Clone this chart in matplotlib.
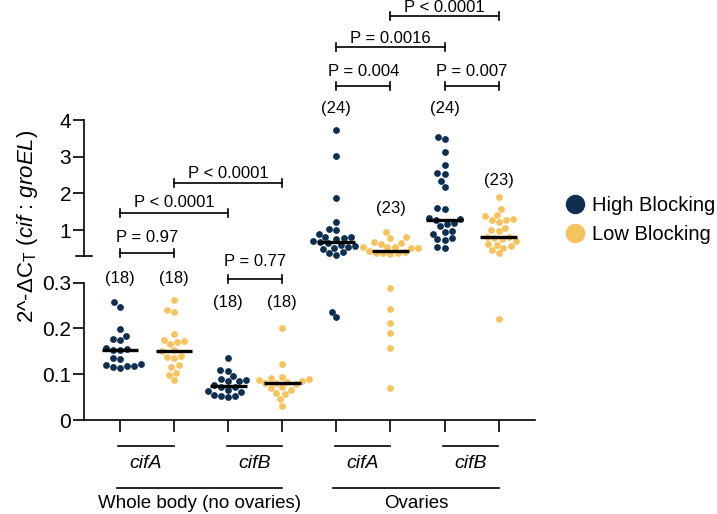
import numpy as np
import matplotlib
matplotlib.use("Agg")
import matplotlib.pyplot as plt
import matplotlib.transforms as mtransforms
from matplotlib.lines import Line2D

plt.rcParams["font.family"] = ["Liberation Sans", "DejaVu Sans"]
plt.rcParams["mathtext.fontset"] = "custom"
plt.rcParams["mathtext.rm"] = "Liberation Sans"
plt.rcParams["mathtext.it"] = "Liberation Sans:italic"

series_names = ["High Blocking", "Low Blocking"]
series_colors = ["#0e2f50", "#f6c35e"]
genes = ["cifA", "cifB", "cifA", "cifB"]
tissues = ["Whole body (no ovaries)", "Ovaries"]

# 2^-dCt values per group
body_cifA_high = [0.257, 0.247, 0.199, 0.184, 0.178, 0.175, 0.158, 0.155, 0.154,
                  0.152, 0.135, 0.133, 0.122, 0.120, 0.119, 0.118, 0.116, 0.113]
body_cifA_low = [0.263, 0.240, 0.235, 0.187, 0.175, 0.173, 0.170, 0.166, 0.153,
                 0.150, 0.140, 0.138, 0.136, 0.120, 0.116, 0.103, 0.098, 0.087]
body_cifB_high = [0.136, 0.110, 0.108, 0.097, 0.090, 0.087, 0.086, 0.085, 0.077,
                  0.073, 0.072, 0.066, 0.064, 0.062, 0.055, 0.053, 0.052, 0.050]
body_cifB_low = [0.202, 0.122, 0.095, 0.092, 0.090, 0.088, 0.086, 0.084, 0.081,
                 0.080, 0.078, 0.072, 0.070, 0.066, 0.060, 0.057, 0.046, 0.031]
ova_cifA_high = [3.73, 3.02, 1.86, 1.22, 1.03, 1.00, 0.90, 0.82, 0.80, 0.78, 0.75, 0.70,
                 0.66, 0.64, 0.60, 0.56, 0.55, 0.52, 0.48, 0.40, 0.36, 0.33, 0.237, 0.225]
ova_cifA_low = [0.94, 0.80, 0.79, 0.67, 0.65, 0.63, 0.55, 0.54, 0.53, 0.52, 0.51, 0.42,
                0.39, 0.38, 0.37, 0.36, 0.35, 0.289, 0.242, 0.212, 0.190, 0.158, 0.071]
ova_cifB_high = [3.55, 3.47, 3.12, 2.77, 2.56, 2.53, 2.34, 2.16, 1.59, 1.57, 1.32, 1.29,
                 1.27, 1.20, 1.17, 1.10, 0.98, 0.95, 0.90, 0.78, 0.75, 0.72, 0.55, 0.52]
ova_cifB_low = [1.89, 1.57, 1.41, 1.37, 1.30, 1.28, 1.26, 1.22, 1.05, 1.00, 0.97, 0.82,
                0.80, 0.78, 0.75, 0.70, 0.62, 0.60, 0.56, 0.52, 0.45, 0.37, 0.22]

comp_pairs = [(0, 1), (0, 2), (1, 3), (2, 3), (4, 5), (4, 6), (5, 7), (6, 7)]
comp_labels = ["P = 0.97", "P < 0.0001", "P < 0.0001", "P = 0.77",
               "P = 0.004", "P = 0.0016", "P < 0.0001", "P = 0.007"]

all_groups = [body_cifA_high, body_cifA_low, body_cifB_high, body_cifB_low,
              ova_cifA_high, ova_cifA_low, ova_cifB_high, ova_cifB_low]

# layout (pixels from top of a 717x514 image)
W, H = 717, 514
brk = 0.3
bracket_y = [252.7, 212.7, 182.7, 279, 86, 46.7, 16, 86]
label_y = [237.5, 203, 173, 262, 72, 38.5, 8, 72]
n_y = [279, 279, 302, 302, 108, 208, 108, 180]

fig = plt.figure(figsize=(W / 100, H / 100), dpi=100)
ax_bot = fig.add_axes([84 / W, (H - 420) / H, 451 / W, 137.3 / H])
ax_top = fig.add_axes([84 / W, (H - 255.7) / H, 451 / W, 135.7 / H])
xlim = (-0.665, 7.671)

for ax in (ax_bot, ax_top):
    ax.set_xlim(*xlim)
    ax.spines["top"].set_visible(False)
    ax.spines["right"].set_visible(False)
    for s in ax.spines.values():
        s.set_linewidth(1.2)
    ax.tick_params(axis="y", length=8.2, width=1.2, pad=1, labelsize=15)
    ax.tick_params(axis="x", length=8.8, width=1.2, labelsize=0)

ax_bot.set_ylim(0, brk)
ax_bot.set_yticks([0, 0.1, 0.2, 0.3])
ax_bot.set_yticklabels(["0", "0.1", "0.2", "0.3"])
ax_bot.set_xticks(range(len(all_groups)))
ax_bot.set_xticklabels([])

ax_top.set_ylim(brk, 4)
ax_top.set_yticks([1, 2, 3, 4])
ax_top.set_yticklabels(["1", "2", "3", "4"])
ax_top.spines["bottom"].set_visible(False)
ax_top.set_xticks([])
ax_top.patch.set_visible(False)
ax_bot.patch.set_visible(False)
# cap at the end of the upper segment
cap = mtransforms.blended_transform_factory(ax_top.transAxes, ax_top.transData)
ax_top.add_line(Line2D([-0.018, 0.018], [brk, brk], transform=cap, color="black",
                       lw=1.2, clip_on=False))


def swarm(ypx, d):
    xs = np.zeros(len(ypx))
    done = []
    for k in np.argsort(ypx):
        y = ypx[k]
        cands = [0.0]
        for j in done:
            dy = abs(ypx[j] - y)
            if dy < d:
                w = np.sqrt(d * d - dy * dy)
                cands += [xs[j] - w, xs[j] + w]
        cands.sort(key=lambda c: (abs(c), c))
        for c in cands:
            if all((xs[j] - c) ** 2 + (ypx[j] - y) ** 2 >= d * d - 1e-6 for j in done):
                xs[k] = c
                break
        done.append(k)
    return xs


px_unit = ax_bot.transData.transform((1, 0))[0] - ax_bot.transData.transform((0, 0))[0]
for i, vals in enumerate(all_groups):
    vals = np.array(vals)
    color = series_colors[i % 2]
    ypx = np.array([(ax_top if v >= brk else ax_bot).transData.transform((i, v))[1]
                    for v in vals])
    offs = swarm(ypx, 7.3) / px_unit
    for ax, mask in ((ax_top, vals >= brk), (ax_bot, vals < brk)):
        ax.scatter(i + offs[mask], vals[mask], s=24, color=color, linewidths=0,
                   clip_on=False, zorder=3)
    med = np.median(vals)
    ax = ax_top if med >= brk else ax_bot
    ax.plot([i - 0.34, i + 0.34], [med, med], color="black", lw=2.4,
            solid_capstyle="butt", zorder=4, clip_on=False)

# annotations: x in data, y in figure pixels
tr = mtransforms.blended_transform_factory(ax_bot.transData, fig.transFigure)


def fy(ypx):
    return 1 - ypx / H


for (a, b), lab, by, ly in zip(comp_pairs, comp_labels, bracket_y, label_y):
    ax_bot.add_line(Line2D([a, b], [fy(by), fy(by)], transform=tr, color="black",
                           lw=1.2, clip_on=False))
    for x in (a, b):
        ax_bot.add_line(Line2D([x, x], [fy(by - 4), fy(by + 4)], transform=tr,
                               color="black", lw=1.2, clip_on=False))
    ax_bot.text((a + b) / 2, fy(ly), lab, transform=tr, ha="center", va="center",
                fontsize=12)

for i, vals in enumerate(all_groups):
    ax_bot.text(i, fy(n_y[i]), "(%d)" % len(vals), transform=tr, ha="center",
                va="center", fontsize=12)

for k, g in enumerate(genes):
    x0 = 2 * k
    ax_bot.add_line(Line2D([x0 - 0.03, x0 + 0.99], [fy(445.5), fy(445.5)], transform=tr,
                           color="black", lw=1.2, clip_on=False))
    ax_bot.text(x0 + 0.48, fy(463), g, transform=tr, ha="center", va="center",
                fontsize=14, style="italic")

for k, t in enumerate(tissues):
    x0 = 4 * k
    ax_bot.add_line(Line2D([x0 - 0.06, x0 + 3.0], [fy(488.3), fy(488.3)], transform=tr,
                           color="black", lw=1.2, clip_on=False))
    ax_bot.text(x0 + 1.47, fy(503), t, transform=tr, ha="center", va="center",
                fontsize=13.5)

fig.text(28 / W, fy(226), r"2^-ΔC$_\mathregular{T}$ ($\mathit{cif}$ : $\mathit{groEL}$)",
         rotation=90, ha="center", va="center", fontsize=16)

handles = [Line2D([], [], marker="o", ls="", markersize=13, color=c) for c in series_colors]
fig.legend(handles, series_names, loc="center left", bbox_to_anchor=(565 / W, fy(220)),
           frameon=False, fontsize=14.5, handlelength=1.0, handletextpad=0.35,
           labelspacing=0.5, borderpad=0, borderaxespad=0)

fig.savefig("out.png", dpi=100)
